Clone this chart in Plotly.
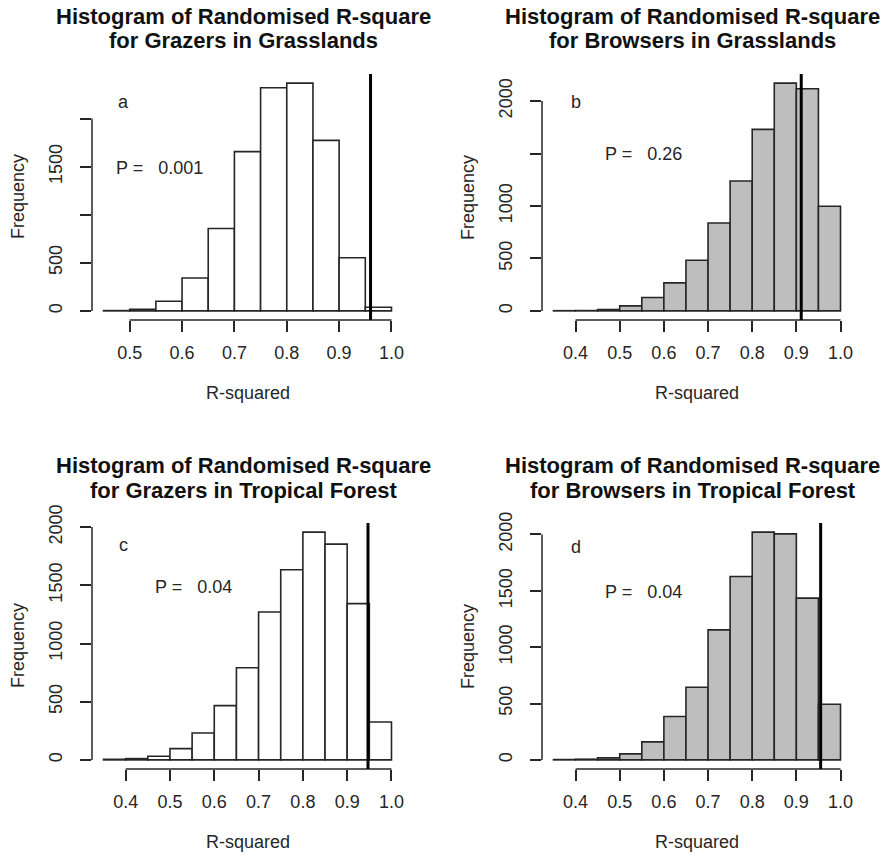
import plotly.graph_objects as go

W, H = 887, 856

# ---- data: histogram bin edges and counts of randomised R-square ----
grazers_grass_edges = [0.45, 0.50, 0.55, 0.60, 0.65, 0.70, 0.75, 0.80, 0.85, 0.90, 0.95, 1.00]
grazers_grass_counts = [3, 17, 100, 342, 857, 1656, 2320, 2368, 1773, 553, 38]
grazers_grass_obs = 0.96
grazers_grass_p = "0.001"

browsers_grass_edges = [0.35, 0.40, 0.45, 0.50, 0.55, 0.60, 0.65, 0.70, 0.75, 0.80, 0.85, 0.90, 0.95, 1.00]
browsers_grass_counts = [2, 3, 13, 48, 127, 267, 483, 838, 1238, 1730, 2171, 2117, 997]
browsers_grass_obs = 0.911
browsers_grass_p = "0.26"

grazers_trop_edges = [0.35, 0.40, 0.45, 0.50, 0.55, 0.60, 0.65, 0.70, 0.75, 0.80, 0.85, 0.90, 0.95, 1.00]
grazers_trop_counts = [5, 11, 31, 97, 231, 466, 791, 1271, 1634, 1957, 1854, 1343, 326]
grazers_trop_obs = 0.947
grazers_trop_p = "0.04"

browsers_trop_edges = [0.35, 0.40, 0.45, 0.50, 0.55, 0.60, 0.65, 0.70, 0.75, 0.80, 0.85, 0.90, 0.95, 1.00]
browsers_trop_counts = [3, 6, 18, 53, 160, 385, 645, 1154, 1627, 2021, 2005, 1435, 494]
browsers_trop_obs = 0.955
browsers_trop_p = "0.04"

x_ticks_a = [0.5, 0.6, 0.7, 0.8, 0.9, 1.0]
x_ticks_bcd = [0.4, 0.5, 0.6, 0.7, 0.8, 0.9, 1.0]
y_ticks = [0, 500, 1000, 1500, 2000]
y_labels_a = ["0", "500", "", "1500", ""]
y_labels_b = ["0", "500", "1000", "", "2000"]
y_labels_cd = ["0", "500", "1000", "1500", "2000"]

panels = [
    dict(title=("Histogram of Randomised R-square", "for Grazers in Grasslands"),
         edges=grazers_grass_edges, counts=grazers_grass_counts, obs=grazers_grass_obs,
         p=grazers_grass_p, letter="a", fill="white", xt=x_ticks_a, yl=y_labels_a,
         letter_pos=(0.489, 2168), p_pos=(0.557, 1485)),
    dict(title=("Histogram of Randomised R-square", "for Browsers in Grasslands"),
         edges=browsers_grass_edges, counts=browsers_grass_counts, obs=browsers_grass_obs,
         p=browsers_grass_p, letter="b", fill="#bebebe", xt=x_ticks_bcd, yl=y_labels_b,
         letter_pos=(0.40, 1988), p_pos=(0.554, 1492)),
    dict(title=("Histogram of Randomised R-square", "for Grazers in Tropical Forest"),
         edges=grazers_trop_edges, counts=grazers_trop_counts, obs=grazers_trop_obs,
         p=grazers_trop_p, letter="c", fill="white", xt=x_ticks_bcd, yl=y_labels_cd,
         letter_pos=(0.395, 1850), p_pos=(0.553, 1485)),
    dict(title=("Histogram of Randomised R-square", "for Browsers in Tropical Forest"),
         edges=browsers_trop_edges, counts=browsers_trop_counts, obs=browsers_trop_obs,
         p=browsers_trop_p, letter="d", fill="#bebebe", xt=x_ticks_bcd, yl=y_labels_cd,
         letter_pos=(0.40, 1893), p_pos=(0.554, 1488)),
]

# plot regions in pixels: (left, right, top, bottom)
regions = [(92, 403, 74, 320), (542, 852, 74, 320),
           (92, 403, 523, 769), (542, 852, 523, 769)]
title_rows = [(17, 41), (17, 41), (465, 490), (465, 490)]

FONT = "Liberation Sans, Arial, Helvetica, sans-serif"
INK = "#262626"

fig = go.Figure()
layout = dict(width=W, height=H, margin=dict(l=0, r=0, t=0, b=0, pad=0, autoexpand=False),
              paper_bgcolor="white", plot_bgcolor="white", showlegend=False,
              font=dict(family=FONT, size=18, color=INK))
shapes, annotations = [], []

for i, (pn, (l, r, t, b)) in enumerate(zip(panels, regions)):
    n = "" if i == 0 else str(i + 1)
    xa, ya = "x" + n, "y" + n
    edges, counts = pn["edges"], pn["counts"]
    centers = [(edges[k] + edges[k + 1]) / 2 for k in range(len(counts))]
    widths = [edges[k + 1] - edges[k] for k in range(len(counts))]
    fig.add_trace(go.Bar(x=centers, y=counts, width=widths, xaxis=xa, yaxis=ya,
                         marker=dict(color=pn["fill"], line=dict(color=INK, width=1.6)),
                         hoverinfo="x+y"))

    # R-style axis limits: data range padded by 4% on each side
    x0, x1 = edges[0], edges[-1]
    dx = (x1 - x0) * 0.04
    ymax = max(counts)
    dom_x = [l / W, r / W]
    dom_y = [1 - b / H, 1 - t / H]
    axis_common = dict(showgrid=False, zeroline=False, showline=False, ticks="outside",
                       ticklen=11, tickwidth=1.5, tickcolor=INK, automargin=False,
                       tickfont=dict(family=FONT, size=18, color=INK))
    layout["xaxis" + n] = dict(domain=dom_x, anchor=ya, range=[x0 - dx, x1 + dx],
                               tickvals=pn["xt"], ticktext=[f"{v:.1f}" for v in pn["xt"]],
                               ticklabelstandoff=5, **axis_common)
    layout["yaxis" + n] = dict(domain=dom_y, anchor=xa, range=[-0.04 * ymax, 1.04 * ymax],
                               tickvals=y_ticks, ticktext=pn["yl"], tickangle=-90,
                               ticklabelstandoff=11, **axis_common)

    # axis lines spanning only the tick range
    shapes.append(dict(type="line", xref=xa, yref=ya + " domain", x0=pn["xt"][0], x1=pn["xt"][-1],
                       y0=0, y1=0, line=dict(color=INK, width=1.5)))
    shapes.append(dict(type="line", xref=xa + " domain", yref=ya, x0=0, x1=0,
                       y0=y_ticks[0], y1=y_ticks[-1], line=dict(color=INK, width=1.5)))
    # observed R-square
    shapes.append(dict(type="line", xref=xa, yref=ya + " domain", x0=pn["obs"], x1=pn["obs"],
                       y0=0, y1=1, line=dict(color="black", width=3)))

    cx = (l + r) / 2 / W
    for line_txt, yp in zip(pn["title"], title_rows[i]):
        annotations.append(dict(text=f"<b>{line_txt}</b>", xref="paper", yref="paper",
                                x=cx - 4 / W, y=1 - yp / H, xanchor="center", yanchor="middle",
                                showarrow=False, font=dict(family=FONT, size=22, color="#111")))
    annotations.append(dict(text="R-squared", xref="paper", yref="paper", x=cx,
                            y=1 - (b + 73) / H, xanchor="center", yanchor="middle",
                            showarrow=False, font=dict(size=18)))
    annotations.append(dict(text="Frequency", xref="paper", yref="paper", x=(l - 74) / W,
                            y=1 - (t + b) / 2 / H, xanchor="center", yanchor="middle",
                            textangle=-90, showarrow=False, font=dict(size=18)))
    annotations.append(dict(text=pn["letter"], xref=xa, yref=ya, x=pn["letter_pos"][0],
                            y=pn["letter_pos"][1], xanchor="center", yanchor="middle",
                            showarrow=False, font=dict(size=18)))
    annotations.append(dict(text="P =\u00a0\u00a0\u00a0" + pn["p"], xref=xa, yref=ya,
                            x=pn["p_pos"][0], y=pn["p_pos"][1], xanchor="center",
                            yanchor="middle", showarrow=False, font=dict(size=18)))

layout["shapes"] = shapes
layout["annotations"] = annotations
fig.update_layout(**layout)
fig.write_html("out.html")
